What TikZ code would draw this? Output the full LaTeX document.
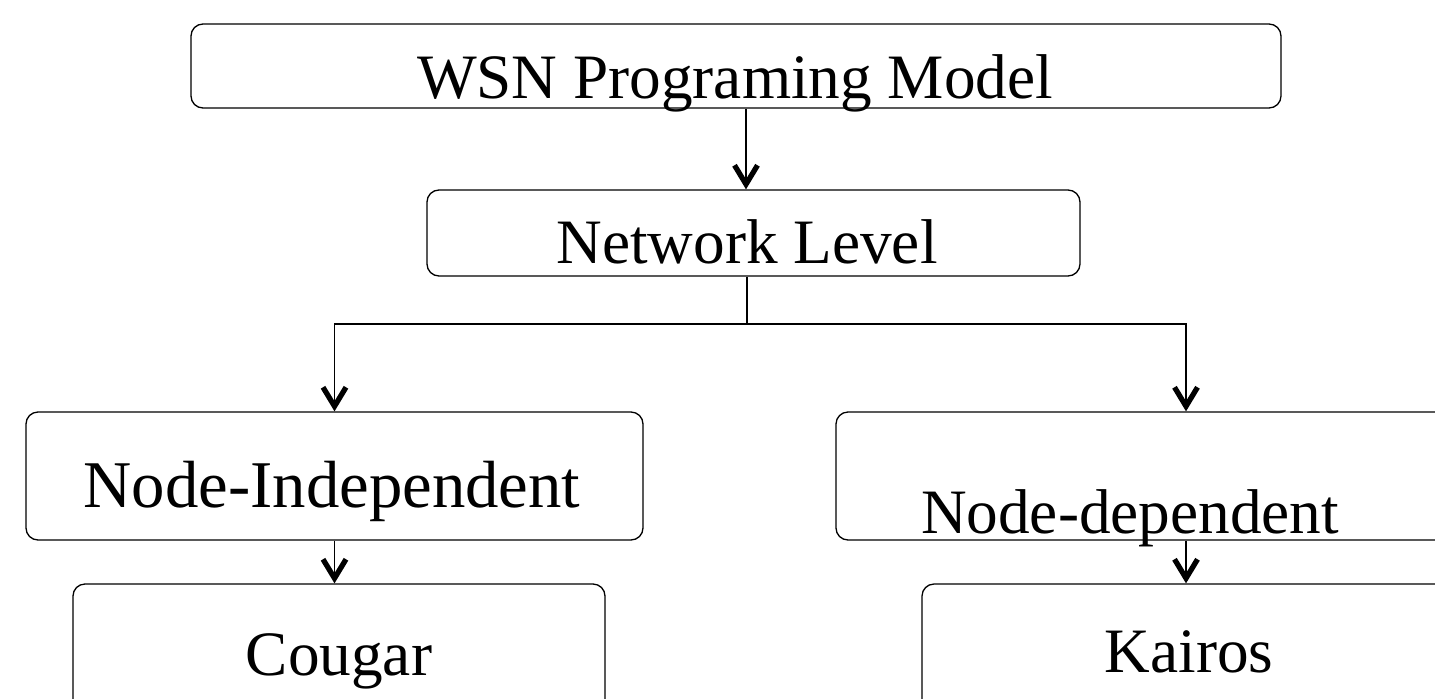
\documentclass[tikz,border=0pt]{standalone}
\usepackage{fontspec}
\setmainfont{Liberation Serif}
\usetikzlibrary{arrows.meta, fit}

\tikzset{
  box/.style={draw, rounded corners=0.24cm, line width=0.75pt, inner sep=0pt},
  lbl/.style={anchor=base, inner sep=0pt, font=\fontsize{36}{40}\selectfont},
  arr/.style={line width=1.1pt, -{Straight Barb[length=0.38cm, width=0.46cm, line width=3pt]}},
  link/.style={line width=1.1pt}
}

\begin{document}
\begin{tikzpicture}[x=0.02cm, y=-0.02cm] % one unit = one pixel
\useasboundingbox (0,0) rectangle (1435,698);
\clip (0,0) rectangle (1435,698);

% boxes
\node[box, fit={(191,24) (1281,108)}] (wsn) {};
\node[box, fit={(427,190) (1080,276)}] (net) {};
\node[box, fit={(26,412) (643,540)}] (indep) {};
\node[box, fit={(836,412) (1536,540)}] (dep) {};
\node[box, fit={(73,584) (605,760)}] (cougar) {};
\node[box, fit={(922,584) (1450,760)}] (kairos) {};

% texts
\node[lbl] (wsnT) at (735,98) {WSN Programing Model};
\node[lbl] (netT) at (747,263) {Network Level};
\node[lbl, font=\fontsize{38}{42}\selectfont] (indepT) at (332,507) {Node-Independent};
\node[lbl] (depT) at (1130,533) {Node-dependent};
\node[lbl] (cougarT) at (339,675) {Cougar};
\node[lbl] (kairosT) at (1189,672) {Kairos};

% connectors
\coordinate (top) at (746,0);
\coordinate (split) at (747,324);
\draw[arr] (wsn.south -| top) -- (net.north -| top);
\draw[link] (net.south -| split) -- (split);
\draw[arr] (split) -| (indep.north);
\draw[arr] (split) -| (dep.north);
\draw[arr] (indep.south) -- (cougar.north -| indep.south);
\draw[arr] (dep.south) -- (kairos.north);
\end{tikzpicture}
\end{document}
